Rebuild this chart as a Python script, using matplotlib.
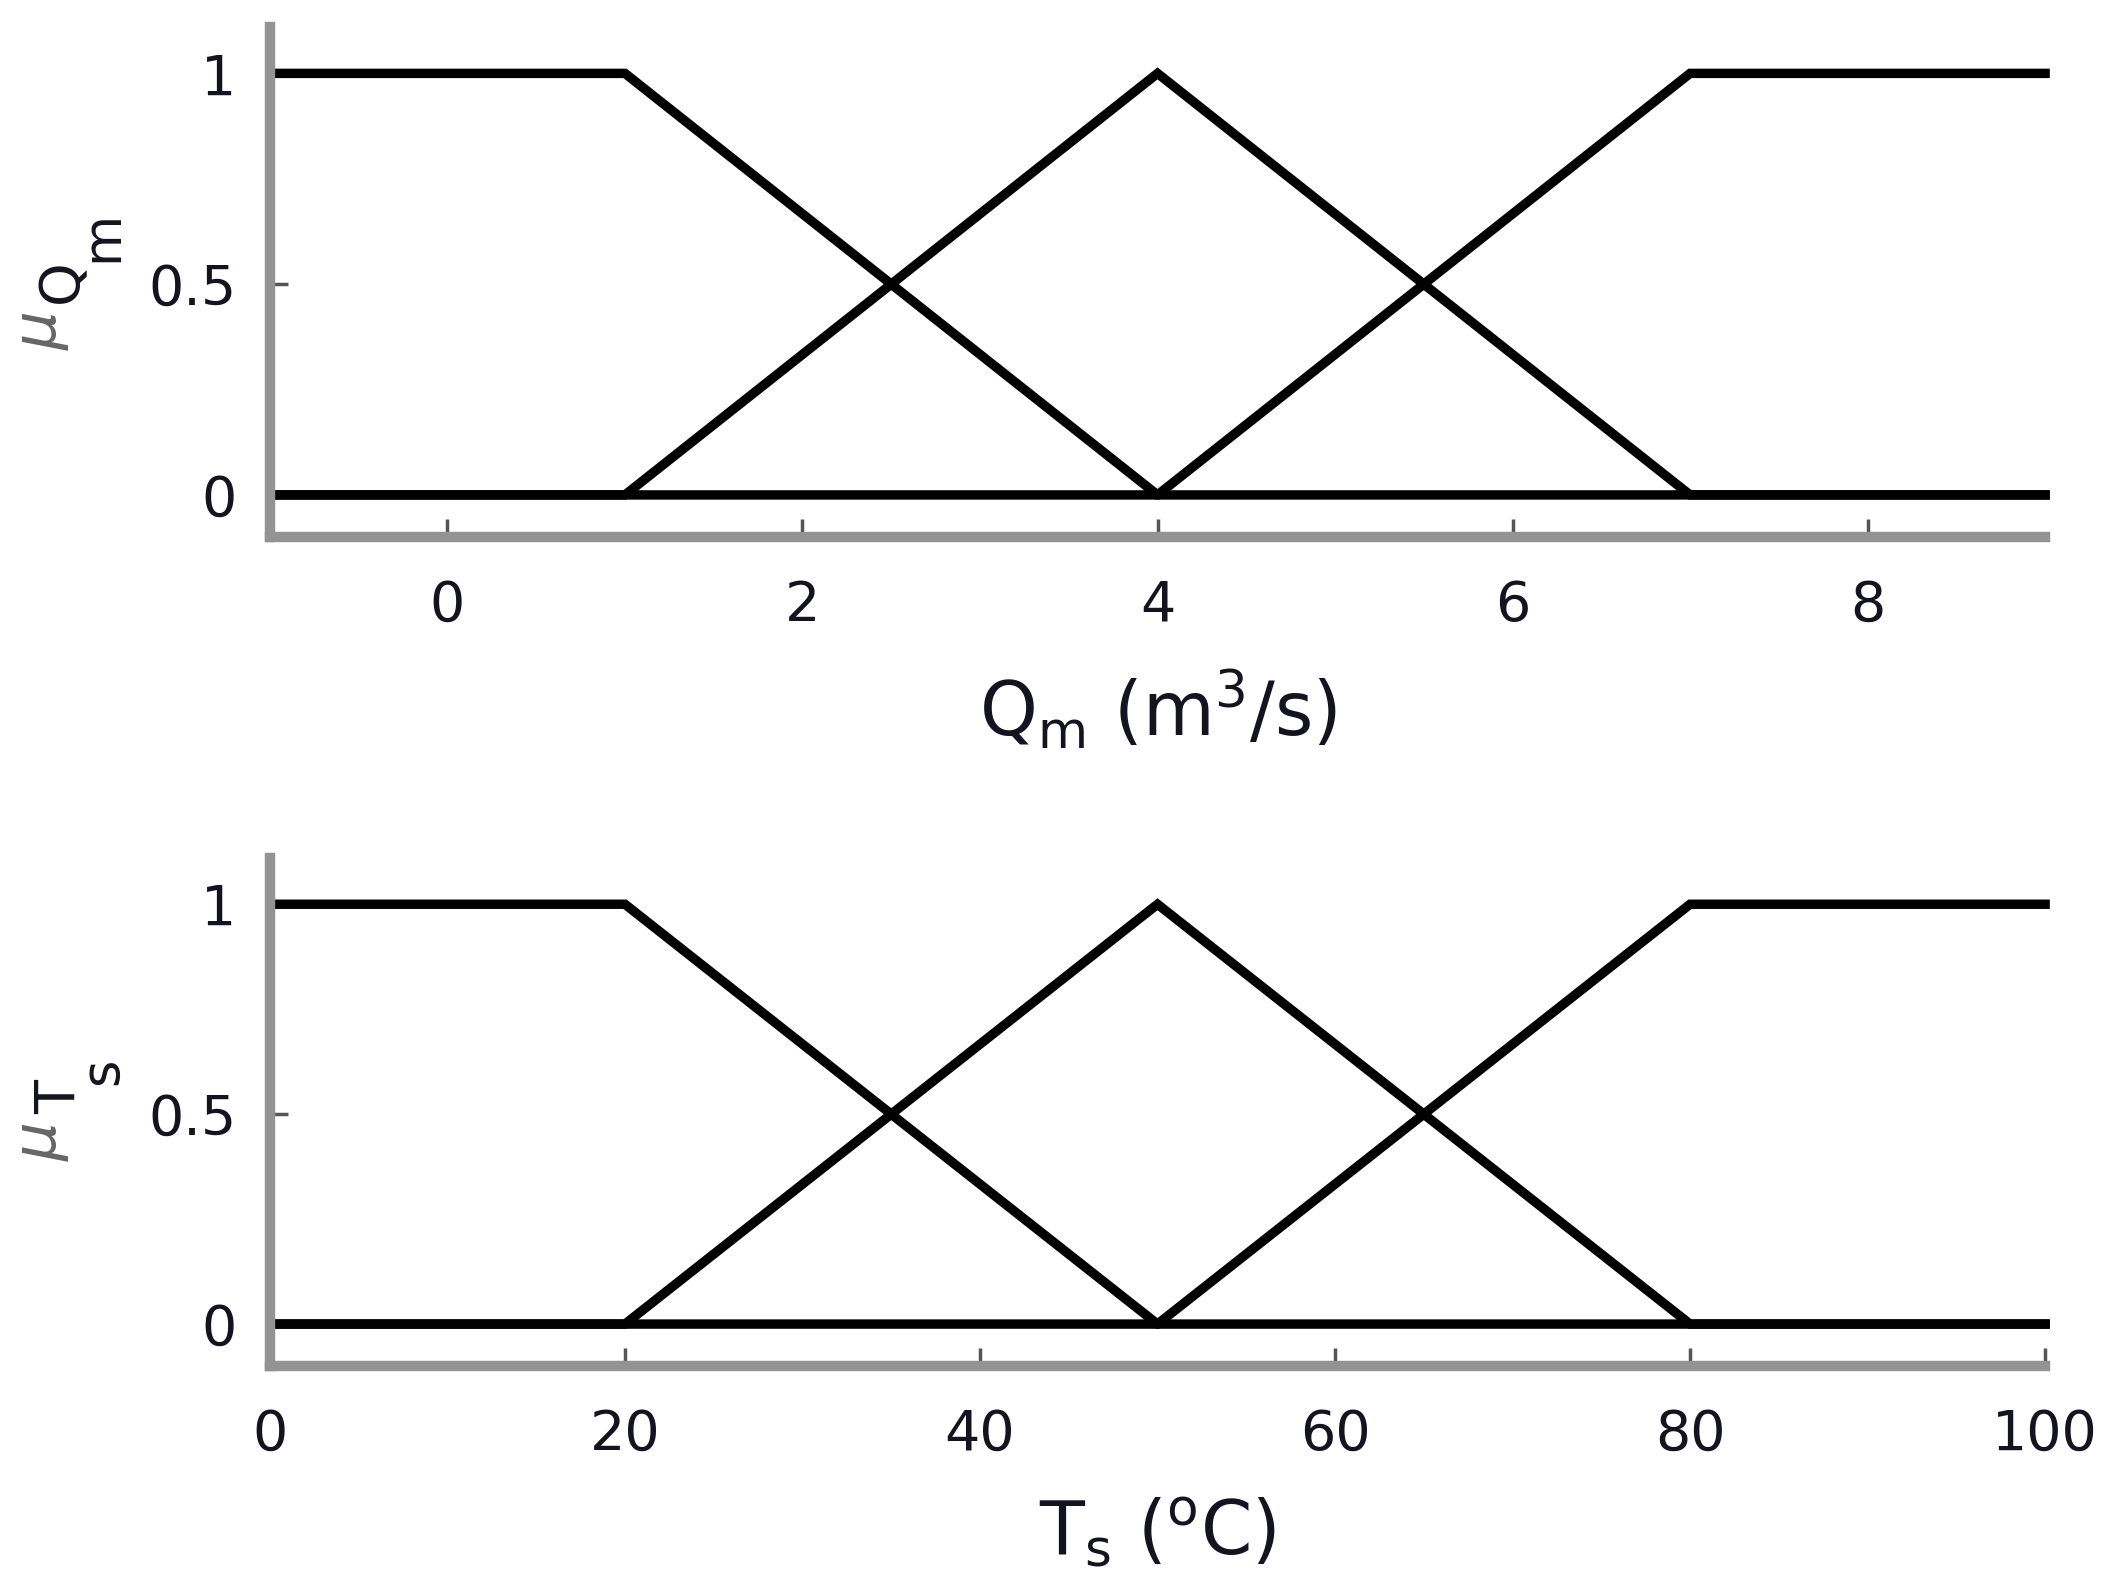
import numpy as np
import matplotlib
matplotlib.use("Agg")
import matplotlib.pyplot as plt

plt.rcParams['font.family'] = ['DejaVu Sans']
plt.rcParams['mathtext.default'] = 'regular'

# membership functions (breakpoints)
q_x = [-1, 1, 4, 7, 9]
t_x = [0, 20, 50, 80, 100]
mf_low = [1, 1, 0, 0, 0]
mf_mid = [0, 0, 1, 0, 0]
mf_high = [0, 0, 0, 1, 1]

q_ticks = [0, 2, 4, 6, 8]
t_ticks = [0, 20, 40, 60, 80, 100]
y_ticks = [0, 0.5, 1]
y_ticklabels = ['0', '0.5', '1']

spine_col = '#939393'
text_col = '#141420'

W, H = 2114, 1589
fig = plt.figure(figsize=(W / 100, H / 100), dpi=100)
ax1 = fig.add_axes([0.1277, 0.662, 0.8397, 0.321])
ax2 = fig.add_axes([0.1277, 0.1403, 0.8397, 0.3197])

def px(x, y):
    return x / W, 1 - y / H

def style(ax, xs, ticks, xlabel, xpad):
    for mf in (mf_low, mf_mid, mf_high):
        ax.plot(xs, mf, color='black', lw=6.8, solid_joinstyle='miter', clip_on=False)
    ax.set_xlim(xs[0], xs[-1])
    ax.set_ylim(-0.1, 1.11)
    ax.set_xticks(ticks)
    ax.set_yticks(y_ticks)
    ax.set_yticklabels(y_ticklabels)
    for s in ('top', 'right'):
        ax.spines[s].set_visible(False)
    for s in ('left', 'bottom'):
        ax.spines[s].set_color(spine_col)
        ax.spines[s].set_linewidth(7.5)
    ax.tick_params(axis='both', direction='in', length=13, width=2.5,
                   color='#555555', labelsize=40, labelcolor=text_col)
    ax.tick_params(axis='x', pad=30)
    ax.tick_params(axis='y', pad=24)
    ax.set_xlabel(xlabel, fontsize=53, color=text_col, labelpad=xpad)

style(ax1, q_x, q_ticks, r'Q$_\mathrm{m}$ (m$^3$/s)', 26)
style(ax2, t_x, t_ticks, r'T$_\mathrm{s}$ ($^\mathrm{o}$C)', 24)

# y labels: mu with stepped-down subscript letters
def ylab(parts):
    for s, (x, y), size, col, style_ in parts:
        fig.text(*px(x, y), s, rotation=90, ha='center', va='center',
                 fontsize=size, color=col, fontstyle=style_)

ylab([('\u03bc', (40, 331), 44, '#666666', 'italic'),
      ('Q', (62, 281), 40, text_col, 'normal'),
      ('m', (102, 236), 38, text_col, 'normal')])
ylab([('\u03bc', (40, 1142), 44, '#666666', 'italic'),
      ('T', (60, 1097), 40, text_col, 'normal'),
      ('s', (102, 1071), 38, text_col, 'normal')])

fig.savefig('out.png', dpi=100)
